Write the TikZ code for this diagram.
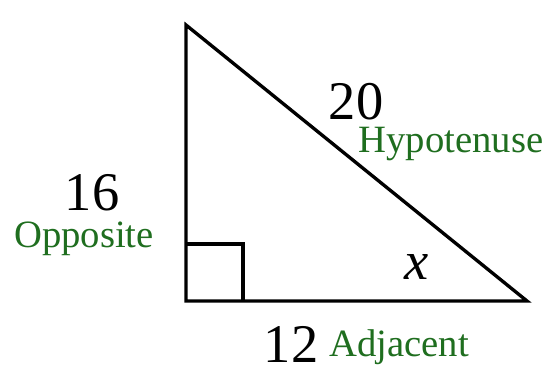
\documentclass[tikz,border=0pt]{standalone}
\usepackage{fontspec}
\setmainfont{Liberation Serif}
\usepackage{tikz}
\usetikzlibrary{positioning,calc}
\definecolor{labelgreen}{HTML}{1F6E1F}

\begin{document}
\begin{tikzpicture}[x=0.02cm,y=-0.02cm,every node/.style={inner sep=0pt},side/.style={line width=1.9pt,line join=miter},num/.style={font=\fontsize{31}{36}\selectfont,anchor=base,text depth=0pt},word/.style={font=\fontsize{22}{26}\selectfont,text=labelgreen,anchor=base,text height=14pt}]
\fill[white] (0,0) rectangle (557,372);
\useasboundingbox (0,0) rectangle (557,372);
\coordinate (top) at (186,25);
\coordinate (corner) at (186,301);
\coordinate (right) at (527,301);
\draw[side] (top)--(corner)--(right)--cycle;
\draw[side] ($(corner)+(0,-57)$) -| ($(corner)+(57,0)$);
\node[num] (hyp) at (356,119) {20};
\node[word] (hyplabel) at (451,152) {Hypotenuse};
\node[num] (opp) at (92,210) {16};
\node[word] (opplabel) at (84,247) {Opposite};
\node[num] (adj) at (291,362) {12};
\node[word] (adjlabel) at (399,356) {Adjacent};
\node[font=\fontsize{31}{36}\selectfont\itshape,anchor=base] (angle) at (417,279) {x};
\end{tikzpicture}
\end{document}
